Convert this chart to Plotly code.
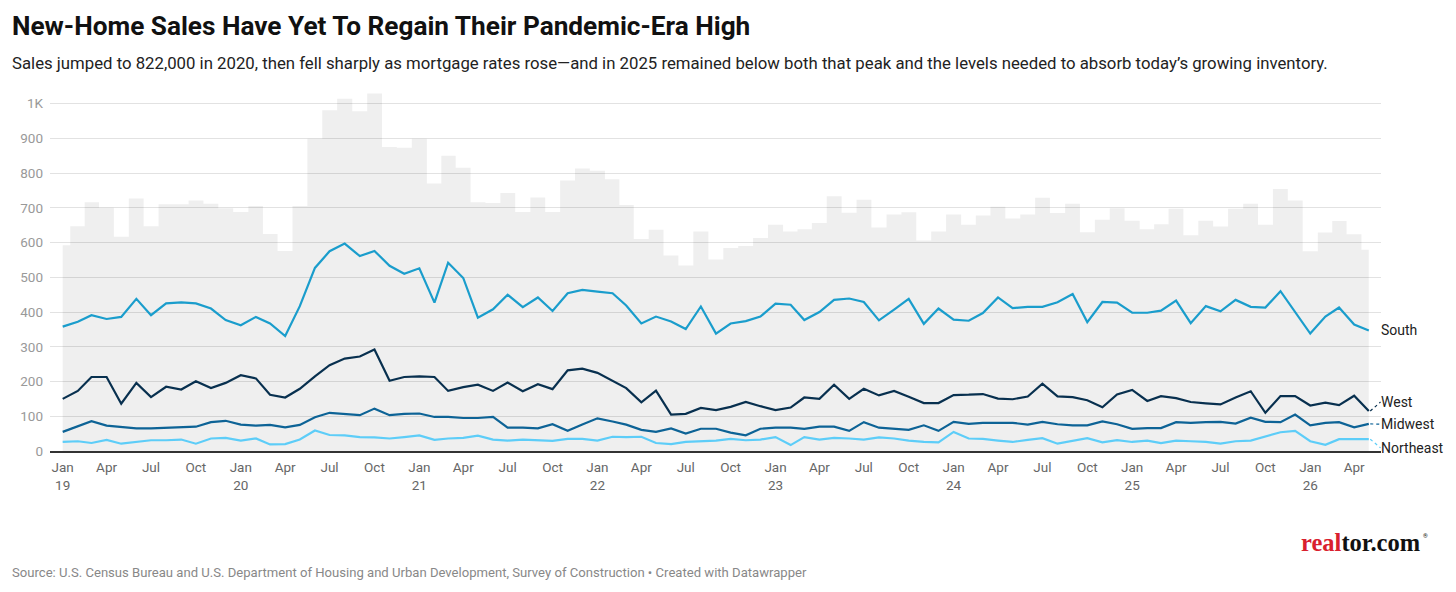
import pandas as pd
import plotly.graph_objects as go

# Monthly new-home sales (thousands, SAAR), Jan 2019 - May 2026
months = pd.date_range("2019-01-01", periods=89, freq="MS")

total = [592, 647, 716, 700, 617, 727, 647, 710, 710, 721, 712, 699,
         688, 705, 625, 576, 705, 899, 981, 1014, 978, 1029, 875, 873,
         899, 770, 850, 815, 716, 714, 743, 688, 730, 688, 779, 813,
         807, 782, 708, 610, 637, 563, 534, 632, 551, 584, 590, 613,
         651, 632, 638, 656, 733, 686, 723, 643, 681, 687, 606, 632,
         681, 651, 678, 703, 669, 681, 729, 685, 712, 630, 666, 699,
         663, 638, 653, 697, 621, 663, 646, 697, 712, 651, 754, 721,
         575, 629, 662, 624, 579]

south = [358, 372, 391, 380, 386, 438, 391, 425, 428, 425, 410, 377,
         362, 386, 367, 331, 417, 527, 575, 597, 561, 576, 533, 510,
         526, 427, 542, 498, 384, 408, 450, 414, 442, 403, 454, 464,
         459, 454, 419, 367, 387, 373, 351, 416, 338, 367, 374, 387,
         424, 421, 377, 400, 435, 439, 429, 376, 407, 438, 366, 410,
         378, 375, 397, 442, 411, 415, 415, 428, 452, 371, 429, 427,
         398, 398, 404, 433, 368, 417, 402, 435, 415, 413, 460, 399,
         338, 387, 413, 364, 347]

west = [150, 173, 213, 213, 136, 196, 155, 185, 177, 201, 181, 196,
        218, 209, 162, 154, 179, 215, 247, 266, 272, 292, 202, 213,
        215, 213, 173, 184, 191, 173, 197, 172, 192, 178, 232, 237,
        225, 203, 181, 140, 174, 105, 107, 124, 118, 127, 141, 129,
        118, 125, 154, 150, 191, 150, 179, 160, 173, 156, 138, 138,
        161, 162, 164, 151, 149, 157, 194, 157, 155, 146, 126, 163,
        176, 144, 158, 152, 141, 137, 134, 154, 172, 110, 158, 158,
        131, 139, 132, 159, 115]

midwest = [55, 72, 86, 73, 70, 65, 65, 66, 69, 70, 83, 87,
           76, 73, 75, 68, 75, 97, 110, 106, 103, 122, 103, 107,
           108, 98, 98, 95, 95, 98, 67, 67, 65, 77, 58, 76,
           94, 85, 76, 61, 55, 65, 50, 64, 64, 53, 45, 64,
           67, 67, 64, 70, 70, 58, 83, 67, 64, 61, 74, 58,
           84, 78, 81, 81, 81, 76, 84, 77, 74, 74, 85, 77,
           64, 66, 66, 83, 81, 83, 84, 79, 96, 84, 83, 105,
           74, 81, 83, 68, 78]

northeast = [26, 28, 23, 32, 21, 26, 31, 31, 33, 21, 36, 38,
             30, 36, 19, 20, 33, 59, 46, 45, 40, 39, 36, 40,
             45, 32, 36, 38, 44, 33, 30, 33, 31, 29, 35, 35,
             30, 41, 40, 41, 23, 20, 26, 28, 30, 35, 31, 33,
             40, 17, 40, 33, 38, 36, 33, 39, 36, 30, 26, 25,
             55, 36, 35, 30, 26, 32, 37, 21, 30, 37, 25, 31,
             26, 30, 23, 30, 28, 26, 21, 28, 30, 42, 54, 58,
             28, 18, 34, 34, 34]

# Quarterly tick labels
tick_dates = pd.date_range("2019-01-01", "2026-04-01", freq="3MS")
tick_text = [f"Jan<br>{d:%y}" if d.month == 1 else f"{d:%b}" for d in tick_dates]

y_ticks = list(range(0, 1001, 100))
y_text = [str(v) for v in y_ticks[:-1]] + ["1K"]

# Region labels on the right edge (label y-position in data units)
regions = [
    ("South", south, "#1a9dcc", 347),
    ("West", west, "#08304f", 141),
    ("Midwest", midwest, "#0d6396", 77),
    ("Northeast", northeast, "#5dcdf8", 9),
]

# the page body adds an 8px margin, so the figure is drawn 8px in and 8px down
OFF = 8
W, H = 1456 - 2 * OFF, 592 - 2 * OFF
L, T = 43 - OFF, 90 - OFF
R = W - (1381 - OFF)
B = H - (451 - OFF)
plot_w = W - L - R
plot_h = H - T - B


def px_x(px):
    # screen pixel -> paper x
    return (px - OFF - L) / plot_w


def px_y(py):
    # screen pixel -> paper y
    return (H - B - (py - OFF)) / plot_h


fig = go.Figure()

# Total sales as a stepped grey area
fig.add_trace(
    go.Scatter(
        x=months,
        y=total,
        mode="lines",
        line=dict(width=0, shape="hvh"),
        fill="tozeroy",
        fillcolor="rgba(0,0,0,0.062)",
        name="Total",
        showlegend=False,
    )
)

annotations = []
shapes = []
last = months[-1]
for name, values, color, label_y in regions:
    fig.add_trace(
        go.Scatter(
            x=months,
            y=values,
            mode="lines",
            line=dict(color=color, width=2.2),
            name=name,
            showlegend=False,
        )
    )
    annotations.append(
        dict(
            text=name, xref="paper", yref="y", x=1, y=label_y, xanchor="left", yanchor="middle",
            xshift=-2, showarrow=False, font=dict(size=14, color="#222"),
        )
    )
    if name != "South":
        # small dotted leader line from the last point to the label
        shapes.append(
            dict(
                type="line", xref="x", yref="y",
                x0=last + pd.Timedelta(days=3), y0=values[-1],
                x1=last + pd.Timedelta(days=24), y1=label_y,
                line=dict(color=color, width=1.2, dash="dot"),
            )
        )

annotations += [
    dict(
        text="Sales jumped to 822,000 in 2020, then fell sharply as mortgage rates rose—and in 2025 remained below both that peak and the levels needed to absorb today’s growing inventory.",
        xref="paper", yref="paper", x=px_x(3), y=px_y(63), xanchor="left", yanchor="middle",
        showarrow=False, font=dict(size=16.75, color="#222"),
    ),
    dict(
        text="Source: U.S. Census Bureau and U.S. Department of Housing and Urban Development, Survey of Construction • Created with Datawrapper",
        xref="paper", yref="paper", x=px_x(3), y=px_y(572), xanchor="left", yanchor="middle",
        showarrow=False, font=dict(size=13.1, color="#888"),
    ),
    dict(
        text="<b><span style='color:#d9202e'>real</span>tor.com</b>",
        xref="paper", yref="paper", x=px_x(1299), y=px_y(542), xanchor="left", yanchor="middle",
        showarrow=False, font=dict(size=24.5, color="#111", family="Liberation Serif"),
    ),
    dict(
        text="®",
        xref="paper", yref="paper", x=px_x(1421), y=px_y(535), xanchor="left", yanchor="middle",
        showarrow=False, font=dict(size=6, color="#111"),
    ),
]

fig.update_layout(
    width=W,
    height=H,
    margin=dict(l=L, r=R, t=T, b=B),
    paper_bgcolor="white",
    plot_bgcolor="white",
    font=dict(family="Roboto", color="#222"),
    title=dict(
        text="<b>New-Home Sales Have Yet To Regain Their Pandemic-Era High</b>",
        xref="container", yref="container", x=(12 - OFF) / W, y=1 - (26 - OFF) / H,
        xanchor="left", yanchor="middle",
        font=dict(size=26.2, color="#111"),
    ),
    xaxis=dict(
        range=[months[0] - pd.Timedelta(days=26), last + pd.Timedelta(days=25)],
        tickvals=tick_dates,
        ticktext=tick_text,
        showgrid=False,
        zeroline=False,
        showline=True,
        linecolor="#333",
        linewidth=1.5,
        ticks="",
        ticklabelstandoff=3,
        tickfont=dict(size=13.5, color="#666"),
    ),
    yaxis=dict(
        range=[0, plot_h / 0.3474],
        tickvals=y_ticks,
        ticktext=y_text,
        showgrid=True,
        gridcolor="#e2e2e2",
        gridwidth=1,
        zeroline=False,
        ticks="",
        ticklabelstandoff=6,
        tickfont=dict(size=13.5, color="#999"),
    ),
    annotations=annotations,
    shapes=shapes,
    hovermode="x unified",
)

fig.write_html("out.html")
